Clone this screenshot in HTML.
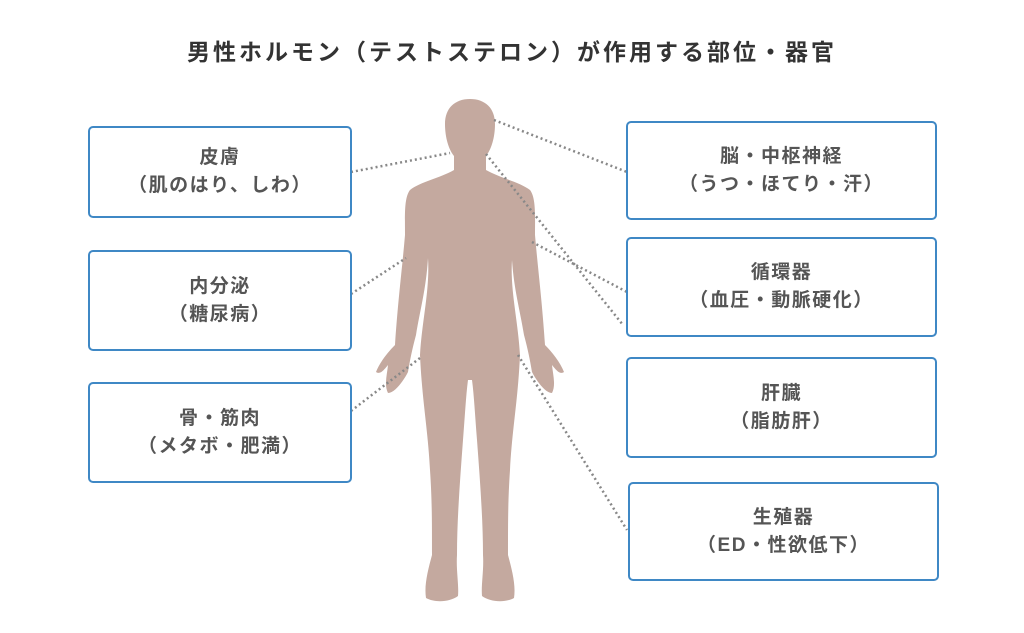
<!DOCTYPE html>
<html><head><meta charset="utf-8"><style>
html,body{margin:0;padding:0;background:#fff;}
body{width:1024px;height:633px;position:relative;overflow:hidden;font-family:"Liberation Sans","Noto Sans CJK JP",sans-serif;}
.t{position:absolute;left:0;width:1024px;top:33px;text-align:center;font-size:23px;font-weight:bold;color:#333;letter-spacing:3px;}
.b{position:absolute;box-sizing:border-box;border:2px solid #3f88c5;border-radius:5px;background:#fff;display:flex;align-items:center;justify-content:center;text-align:center;color:#555;font-weight:bold;font-size:19px;letter-spacing:1.5px;line-height:28px;}
svg{position:absolute;left:0;top:0;}
</style></head><body>
<div class="t">男性ホルモン（テストステロン）が作用する部位・器官</div>
<svg width="1024" height="633">
<path fill="#c4a99f" d="M470,99 C485,99 495,108 495,124 C495,138 491,150 486,156 L486,170 C500,178 520,182 530,190 C536,198 535,215 535,235 C538,270 542,300 545,345 C552,352 560,362 564,372 C560,375 556,370 552,365 C553,375 556,385 552,393 C545,393 536,380 532,372 C530,360 528,350 524,335 C520,310 514,290 512,260 C510,290 518,320 520,355 C518,400 512,430 510,470 C508,500 508,520 508,555 C512,570 516,585 514,598 C505,603 490,602 482,596 C481,585 484,570 483,555 C483,520 480,480 477,440 C475,415 474,395 472,380 L468,380 C466,395 465,415 463,440 C460,480 457,520 457,555 C456,570 459,585 458,596 C450,602 435,603 426,598 C424,585 428,570 432,555 C432,520 432,500 430,470 C428,430 422,400 420,355 C422,320 430,290 428,258 C426,290 420,310 416,335 C412,350 410,360 408,372 C404,380 395,393 388,393 C384,385 387,375 388,365 C384,370 380,375 376,372 C380,362 388,352 395,345 C398,300 402,270 405,235 C405,215 404,198 410,190 C420,182 440,178 454,170 L454,156 C449,150 445,138 445,124 C445,108 455,99 470,99 Z"/>
<g stroke="#888" stroke-width="2.5" stroke-dasharray="2 3" fill="none">
<line x1="351" y1="172" x2="450" y2="153"/>
<line x1="494" y1="120" x2="627" y2="172"/>
<line x1="486" y1="154" x2="623" y2="325"/>
<line x1="532" y1="242" x2="627" y2="292"/>
<line x1="351" y1="294" x2="406" y2="258"/>
<line x1="351" y1="411" x2="420" y2="358"/>
<line x1="518" y1="355" x2="627" y2="530"/>
</g>
</svg>
<div class="b" style="left:88px;top:126px;width:264px;height:92px;">皮膚<br>（肌のはり、しわ）</div>
<div class="b" style="left:88px;top:250px;width:264px;height:101px;">内分泌<br>（糖尿病）</div>
<div class="b" style="left:88px;top:382px;width:264px;height:101px;">骨・筋肉<br>（メタボ・肥満）</div>
<div class="b" style="left:626px;top:121px;width:311px;height:99px;">脳・中枢神経<br>（うつ・ほてり・汗）</div>
<div class="b" style="left:626px;top:237px;width:311px;height:100px;">循環器<br>（血圧・動脈硬化）</div>
<div class="b" style="left:626px;top:357px;width:311px;height:101px;">肝臓<br>（脂肪肝）</div>
<div class="b" style="left:628px;top:482px;width:311px;height:99px;">生殖器<br>（ED・性欲低下）</div>
</body></html>
